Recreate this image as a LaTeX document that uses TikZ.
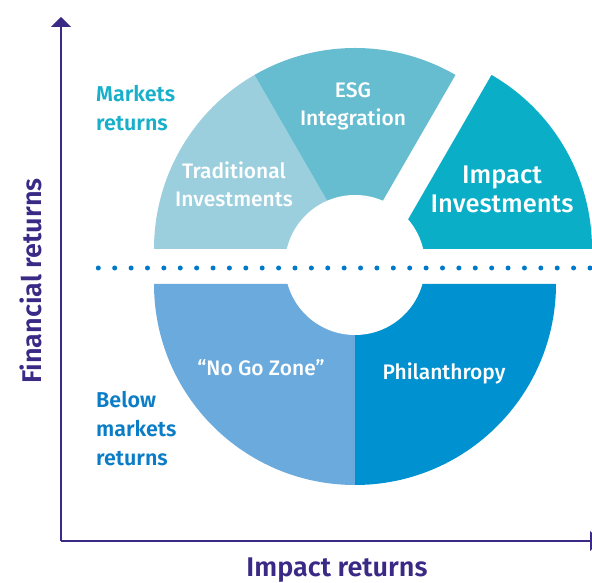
\documentclass[tikz,border=0pt]{standalone}
\usepackage{fontspec}
\setmainfont{Fira Sans}[UprightFont={* Medium}, BoldFont={* SemiBold}]
\usetikzlibrary{arrows.meta}
\definecolor{axiscol}{RGB}{58,42,133}
\definecolor{tradcol}{RGB}{156,207,222}
\definecolor{esgcol}{RGB}{103,189,208}
\definecolor{impcol}{RGB}{10,174,198}
\definecolor{nogocol}{RGB}{106,170,221}
\definecolor{philcol}{RGB}{0,146,208}
\definecolor{dotcol}{RGB}{0,122,200}
\definecolor{mktcol}{RGB}{23,175,201}
\definecolor{belowcol}{RGB}{10,125,198}
\begin{document}
\begin{tikzpicture}[x=1pt,y=1pt,
  axisline/.style={draw=axiscol, line width=2pt, -{Triangle[width=20pt,length=10pt]}},
  seglabel/.style={text=white, align=center, inner sep=0pt, font=\fontsize{21}{28}\selectfont},
  biglabel/.style={text=white, align=center, inner sep=0pt, font=\fontsize{25.5}{29}\selectfont},
  sidelabel/.style={align=left, anchor=west, inner sep=0pt, font=\bfseries\fontsize{21.5}{29}\selectfont},
  axislabel/.style={text=axiscol, inner sep=0pt, font=\bfseries\fontsize{27}{30}\selectfont}]
\useasboundingbox (0,0) rectangle (592,583);
\clip (0,0) rectangle (592,583);
% centres
\coordinate (U) at (355,334);
\coordinate (Ui) at (391,334);
\coordinate (L) at (355,299);
\coordinate (H) at (355,318);
% upper sectors
\fill[tradcol] (U) -- ++(180:201) arc[start angle=180,end angle=120,radius=201pt] -- cycle;
\fill[esgcol] (U) -- ++(120:201) arc[start angle=120,end angle=60,radius=201pt] -- cycle;
\fill[impcol] (Ui) -- ++(60:201) arc[start angle=60,end angle=0,radius=201pt] -- cycle;
% lower sectors
\fill[nogocol] (L) -- ++(180:201) arc[start angle=180,end angle=270,radius=201pt] -- cycle;
\fill[philcol] (L) -- ++(270:201) arc[start angle=270,end angle=360,radius=201pt] -- cycle;
% hole
\fill[white] (H) circle[radius=70pt];
% dotted line
\foreach \i in {0,...,30} \fill[dotcol] ({98.3+16.39*\i},315) circle[radius=2.5pt];
% axes
\coordinate (O) at (61,42);
\coordinate (ytip) at (61,566);
\coordinate (xtip) at (600,42);
\draw[axisline] (O) -- (ytip);
\draw[axisline] (O) -- (xtip);
% labels
\node[seglabel] (trad) at (234,399) {Traditional\\Investments};
\node[seglabel] (esg) at (353,477) {ESG\\Integration};
\node[biglabel] (imp) at (502,394) {Impact\\Investments};
\node[seglabel] (nogo) at (261,215) {“No Go Zone”};
\node[seglabel] (phil) at (444,210) {Philanthropy};
\node[sidelabel, text=mktcol] (mkt) at (96,475) {Markets\\returns};
\node[sidelabel, text=belowcol] (below) at (96,154) {Below\\markets\\returns};
\node[axislabel] (xlab) at (337,13) {Impact returns};
\node[axislabel, rotate=90] (ylab) at (31,302) {Financial returns};
\end{tikzpicture}
\end{document}
